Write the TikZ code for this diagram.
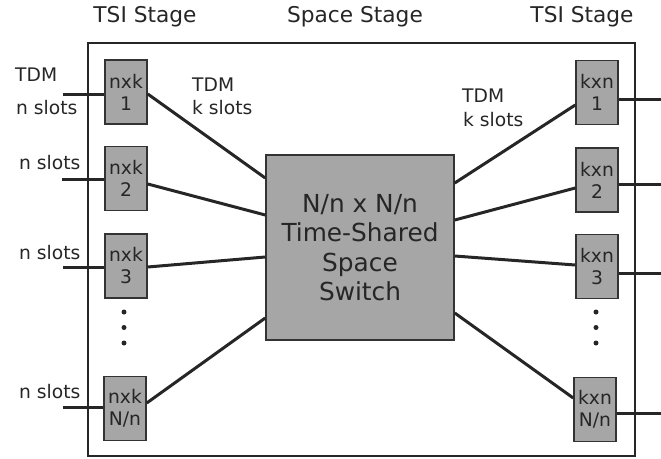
\documentclass[tikz,border=0pt]{standalone}
\usepackage{fontspec}
\setmainfont{DejaVu Sans}
\begin{document}
\begin{tikzpicture}[x=1pt,y=-1pt,
  small/.style={font=\fontsize{18.7}{22}\selectfont, text=black!85, inner sep=0pt},
  header/.style={font=\fontsize{21.7}{24}\selectfont, text=black!85, inner sep=0pt},
  tsibox/.style={draw=black!80, line width=1.5pt, fill=black!35,
    minimum width=42pt, minimum height=64pt, inner sep=0pt, align=center,
    font=\fontsize{18.7}{22}\selectfont, text=black!85},
  switchbox/.style={draw=black!80, line width=1.5pt, fill=black!35,
    minimum width=188pt, minimum height=185pt, inner sep=0pt, align=center,
    font=\fontsize{24.8}{29.5}\selectfont, text=black!85},
  wire/.style={draw=black!85, line width=3pt},
  frame/.style={draw=black!85, line width=2pt},
  dotmark/.style={circle, fill=black!85, inner sep=0pt, minimum size=5pt}
]
\useasboundingbox (0,0) rectangle (661,458);

% outer frame
\draw[frame] (88,43) rectangle (635,456);

% stage headings
\node[header] (hl) at (145,17) {TSI Stage};
\node[header] (hm) at (355,17) {Space Stage};
\node[header] (hr) at (582,17) {TSI Stage};

% central time-shared space switch
\node[switchbox] (sw) at (360,247.5) {N/n x N/n\\Time-Shared\\Space\\Switch};

% input TSI stage
\node[tsibox] (l1) at (126,92)    {nxk\\1};
\node[tsibox] (l2) at (126,178.5) {nxk\\2};
\node[tsibox] (l3) at (126,266)   {nxk\\3};
\node[tsibox] (l4) at (125,408.5) {nxk\\N/n};

% output TSI stage
\node[tsibox] (r1) at (597,92.5)  {kxn\\1};
\node[tsibox] (r2) at (597,180)   {kxn\\2};
\node[tsibox] (r3) at (597,266.5) {kxn\\3};
\node[tsibox] (r4) at (595,409.5) {kxn\\N/n};

% continuation dots
\foreach \y [count=\i] in {312,327.5,343} {
  \node[dotmark] (dl\i) at (124,\y) {};
  \node[dotmark] (dr\i) at (596,\y) {};
}

% free ends of the external lines
\coordinate (i1) at (63,94);
\coordinate (i2) at (62,179);
\coordinate (i3) at (63,267);
\coordinate (i4) at (63,407);
\coordinate (o1) at (661,99);
\coordinate (o2) at (661,184);
\coordinate (o3) at (661,273);
\coordinate (o4) at (661,413);

% external lines (yshift works on the page, so negative values go down)
\draw[wire] (i1) -- ([yshift=-2pt]l1.west);
\draw[wire] (i2) -- ([yshift=-0.5pt]l2.west);
\draw[wire] (i3) -- ([yshift=-1pt]l3.west);
\draw[wire] (i4) -- ([yshift=1.5pt]l4.west);
\draw[wire] ([yshift=-6.5pt]r1.east) -- (o1);
\draw[wire] ([yshift=-4pt]r2.east) -- (o2);
\draw[wire] ([yshift=-6.5pt]r3.east) -- (o3);
\draw[wire] ([yshift=-3.5pt]r4.east) -- (o4);

% links into the space switch
\draw[wire] ([yshift=-2pt]l1.east) -- ([yshift=69.5pt]sw.west);
\draw[wire] ([yshift=-5.5pt]l2.east) -- ([yshift=32.5pt]sw.west);
\draw[wire] ([yshift=-1pt]l3.east) -- ([yshift=-9.5pt]sw.west);
\draw[wire] ([yshift=5.5pt]l4.east) -- ([yshift=-70.5pt]sw.west);

% links out of the space switch
\draw[wire] ([yshift=64.5pt]sw.east) -- ([yshift=-12.5pt]r1.west);
\draw[wire] ([yshift=27.5pt]sw.east) -- ([yshift=-8pt]r2.west);
\draw[wire] ([yshift=-8.5pt]sw.east) -- ([yshift=1.5pt]r3.west);
\draw[wire] ([yshift=-65.5pt]sw.east) -- ([yshift=11.5pt]r4.west);

% line labels
\node[small, anchor=west] (t1) at (15,75) {TDM};
\node[small, anchor=west] (n1) at (16,108) {n slots};
\node[small, anchor=west] (n2) at (19,163) {n slots};
\node[small, anchor=west] (n3) at (19,253) {n slots};
\node[small, anchor=west] (n4) at (19,392) {n slots};
\node[small, anchor=west] (kl1) at (192,85) {TDM};
\node[small, anchor=west] (kl2) at (192,108) {k slots};
\node[small, anchor=west] (kr1) at (462,96) {TDM};
\node[small, anchor=west] (kr2) at (463,120) {k slots};
\end{tikzpicture}
\end{document}
